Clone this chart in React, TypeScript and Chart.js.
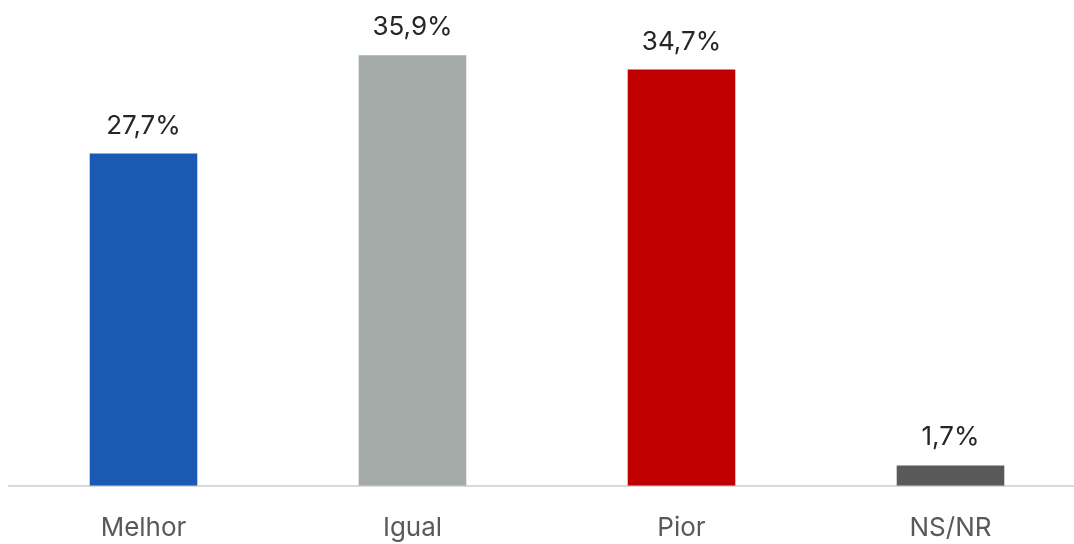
import React, { useEffect, useRef } from "react";
import { Chart, registerables } from "chart.js";

Chart.register(...registerables);

const categories = ["Melhor", "Igual", "Pior", "NS/NR"];
const values = [27.7, 35.9, 34.7, 1.7];
const colors = ["#1A5AB4", "#A3AAA8", "#C00000", "#595959"];

const FONT = "Inter, 'Open Sans', sans-serif";

const labelPlugin = {
  id: "valueLabels",
  afterDatasetsDraw(chart: any) {
    const ctx = chart.ctx;
    const meta = chart.getDatasetMeta(0);
    ctx.save();
    ctx.font = `400 26px ${FONT}`;
    ctx.fillStyle = "#262626";
    ctx.textAlign = "center";
    ctx.textBaseline = "alphabetic";
    meta.data.forEach((bar: any, i: number) => {
      const txt = values[i].toFixed(1).replace(".", ",") + "%";
      ctx.fillText(txt, bar.x, bar.y - 20);
    });
    ctx.restore();
  },
};

export default function App() {
  const ref = useRef<HTMLCanvasElement>(null);
  useEffect(() => {
    document.body.style.margin = "0";
    document.body.style.overflow = "hidden";
    const chart = new Chart(ref.current!, {
      type: "bar",
      data: {
        labels: categories,
        datasets: [
          {
            data: values,
            backgroundColor: colors,
            categoryPercentage: 1,
            barPercentage: 0.4,
          },
        ],
      },
      options: {
        animation: false,
        responsive: false,
        maintainAspectRatio: false,
        layout: { padding: { left: 9, right: 0, top: 6, bottom: 0 } },
        plugins: { legend: { display: false }, tooltip: { enabled: false } },
        scales: {
          x: {
            grid: { display: false, drawTicks: true, tickLength: 27 },
            border: { display: true, color: "#D9D9D9", width: 2 },
            ticks: {
              color: "#595959",
              font: { family: FONT, size: 26 },
              padding: 0,
            },
          },
          y: {
            display: false,
            min: 0,
            max: 40,
          },
        },
      },
      plugins: [labelPlugin],
    });
    return () => chart.destroy();
  }, []);
  return (
    <div style={{ width: 1085, height: 544, overflow: "hidden" }}>
      <canvas ref={ref} width={1085} height={544} style={{ display: "block" }} />
    </div>
  );
}
